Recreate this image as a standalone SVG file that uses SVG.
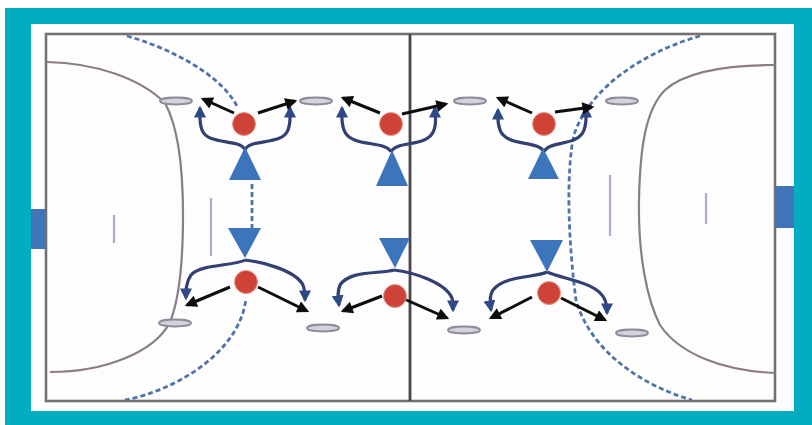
<svg xmlns="http://www.w3.org/2000/svg" width="812" height="425" viewBox="0 0 812 425">
<style>
.court{fill:none;stroke:#77706f;stroke-width:2.6}
.arc{fill:none;stroke:#8b7c88;stroke-width:2.2}
.dash{fill:none;stroke:#4f74a8;stroke-width:2.8;stroke-dasharray:5 3}
.mark{fill:none;stroke:#a3aed0;stroke-width:2.2}
.cone{fill:#d4d2da;stroke:#8d8a9c;stroke-width:1.8}
.player{fill:#cf4237;stroke:#e79a8c;stroke-width:1}
.tri{fill:#3d75bd}
.goal{fill:#3f74ba}
.run{fill:none;stroke:#333f72;stroke-width:3.2;marker-end:url(#blueHead)}
.pass{fill:none;stroke:#0c0c0c;stroke-width:3;marker-end:url(#blackHead)}
</style>
<defs>
<marker id="blueHead" viewBox="0 0 10 10" refX="8" refY="5" markerUnits="userSpaceOnUse" markerWidth="12" markerHeight="12" orient="auto"><path d="M0,0L10,5L0,10Z" fill="#2f4a86"/></marker>
<marker id="blackHead" viewBox="0 0 10 10" refX="8" refY="5" markerUnits="userSpaceOnUse" markerWidth="13" markerHeight="12" orient="auto"><path d="M0,0L10,5L0,10Z" fill="#0a0a0a"/></marker>
<filter id="soft" x="-5%" y="-5%" width="110%" height="110%"><feGaussianBlur stdDeviation="0.6"/></filter>
</defs>
<rect width="812" height="425" fill="#ffffff"/>
<rect x="5" y="8" width="807" height="417" fill="#02adc1"/>
<rect x="31" y="24" width="763" height="387" fill="#fdfdfd"/>
<g id="court" filter="url(#soft)">
<rect class="court" x="46" y="34" width="729" height="367"/>
<path d="M410,34V401" fill="none" stroke="#4c4648" stroke-width="2.8"/>
<path class="arc" d="M47,62C95,63 140,78 165,103C177,125 183,165 183,215C183,260 179,300 170,322C155,352 105,372 50,372"/>
<path class="arc" d="M775,65C725,65 685,72 665,90C645,110 640,150 639,200C638,255 647,300 660,325C680,355 725,371 775,373"/>
<path class="dash" d="M127,36C170,48 222,75 238,108"/>
<path class="dash" d="M125,400C170,392 240,355 246,298"/>
<path class="dash" d="M252,184V228"/>
<path class="dash" d="M700,36C650,50 590,85 574,135C566,170 568,240 576,300C590,350 640,385 692,400"/>
<path class="mark" d="M114,215V243M211,198V256M610,175V236M706,193V224"/>
<rect class="goal" x="31" y="209" width="15" height="40"/>
<rect class="goal" x="775" y="186" width="19" height="42"/>
<g id="cones">
<ellipse class="cone" cx="176" cy="101" rx="16" ry="3.5"/>
<ellipse class="cone" cx="316" cy="101" rx="16" ry="3.5"/>
<ellipse class="cone" cx="470" cy="101" rx="16" ry="3.5"/>
<ellipse class="cone" cx="622" cy="101" rx="16" ry="3.5"/>
<ellipse class="cone" cx="175" cy="323" rx="16" ry="3.5"/>
<ellipse class="cone" cx="323" cy="328" rx="16" ry="3.5"/>
<ellipse class="cone" cx="464" cy="330" rx="16" ry="3.5"/>
<ellipse class="cone" cx="632" cy="333" rx="16" ry="3.5"/>
</g>
<g id="connectors">
<path class="run" d="M245,150C240,138 208,146 202,130C199,122 200,116 200,108"/>
<path class="run" d="M245,150C250,138 282,146 288,130C291,122 290,116 290,108"/>
<path class="run" d="M391,152C386,140 350,148 344,130C341,122 342,116 342,108"/>
<path class="run" d="M391,152C396,140 428,148 434,130C437,122 435,116 435,108"/>
<path class="run" d="M544,152C539,140 506,147 500,130C497,122 498,116 498,110"/>
<path class="run" d="M544,152C549,140 578,147 584,130C587,122 586,116 586,108"/>
<path class="run" d="M245,260C235,266 200,264 191,275C186,282 186,290 186,298"/>
<path class="run" d="M245,260C262,262 295,270 303,285C305,290 305,294 305,300"/>
<path class="run" d="M394,270C380,274 350,270 340,285C337,292 338,298 339,305"/>
<path class="run" d="M394,270C412,272 445,282 452,298C453,302 453,306 453,310"/>
<path class="run" d="M547,272C535,278 505,275 493,290C489,296 490,304 491,310"/>
<path class="run" d="M547,272C565,280 598,282 605,300C607,305 607,309 607,313"/>
<path class="pass" d="M234,113L203,99"/>
<path class="pass" d="M258,113L295,101"/>
<path class="pass" d="M380,113L343,98"/>
<path class="pass" d="M402,114L446,104"/>
<path class="pass" d="M532,113L498,98"/>
<path class="pass" d="M555,112L592,107"/>
<path class="pass" d="M230,287L187,305"/>
<path class="pass" d="M258,287L307,311"/>
<path class="pass" d="M382,296L343,311"/>
<path class="pass" d="M402,298L447,318"/>
<path class="pass" d="M532,297L491,318"/>
<path class="pass" d="M561,298L605,320"/>
</g>
<g id="defender-1"><path class="tri" d="M245,147L261,180H229Z"/></g>
<g id="defender-2"><path class="tri" d="M392,150L408,186H376Z"/></g>
<g id="defender-3"><path class="tri" d="M543,148L559,179H528Z"/></g>
<g id="defender-4"><path class="tri" d="M228,228H261L245,258Z"/></g>
<g id="defender-5"><path class="tri" d="M379,238H410L395,268Z"/></g>
<g id="defender-6"><path class="tri" d="M530,240H563L547,272Z"/></g>
<g id="player-1"><circle class="player" cx="244" cy="124" r="11.5"/></g>
<g id="player-2"><circle class="player" cx="391" cy="124" r="11.5"/></g>
<g id="player-3"><circle class="player" cx="544" cy="124" r="11.5"/></g>
<g id="player-4"><circle class="player" cx="246" cy="282" r="11.5"/></g>
<g id="player-5"><circle class="player" cx="395" cy="296" r="11.5"/></g>
<g id="player-6"><circle class="player" cx="549" cy="293" r="11.5"/></g>
</g>
</svg>
